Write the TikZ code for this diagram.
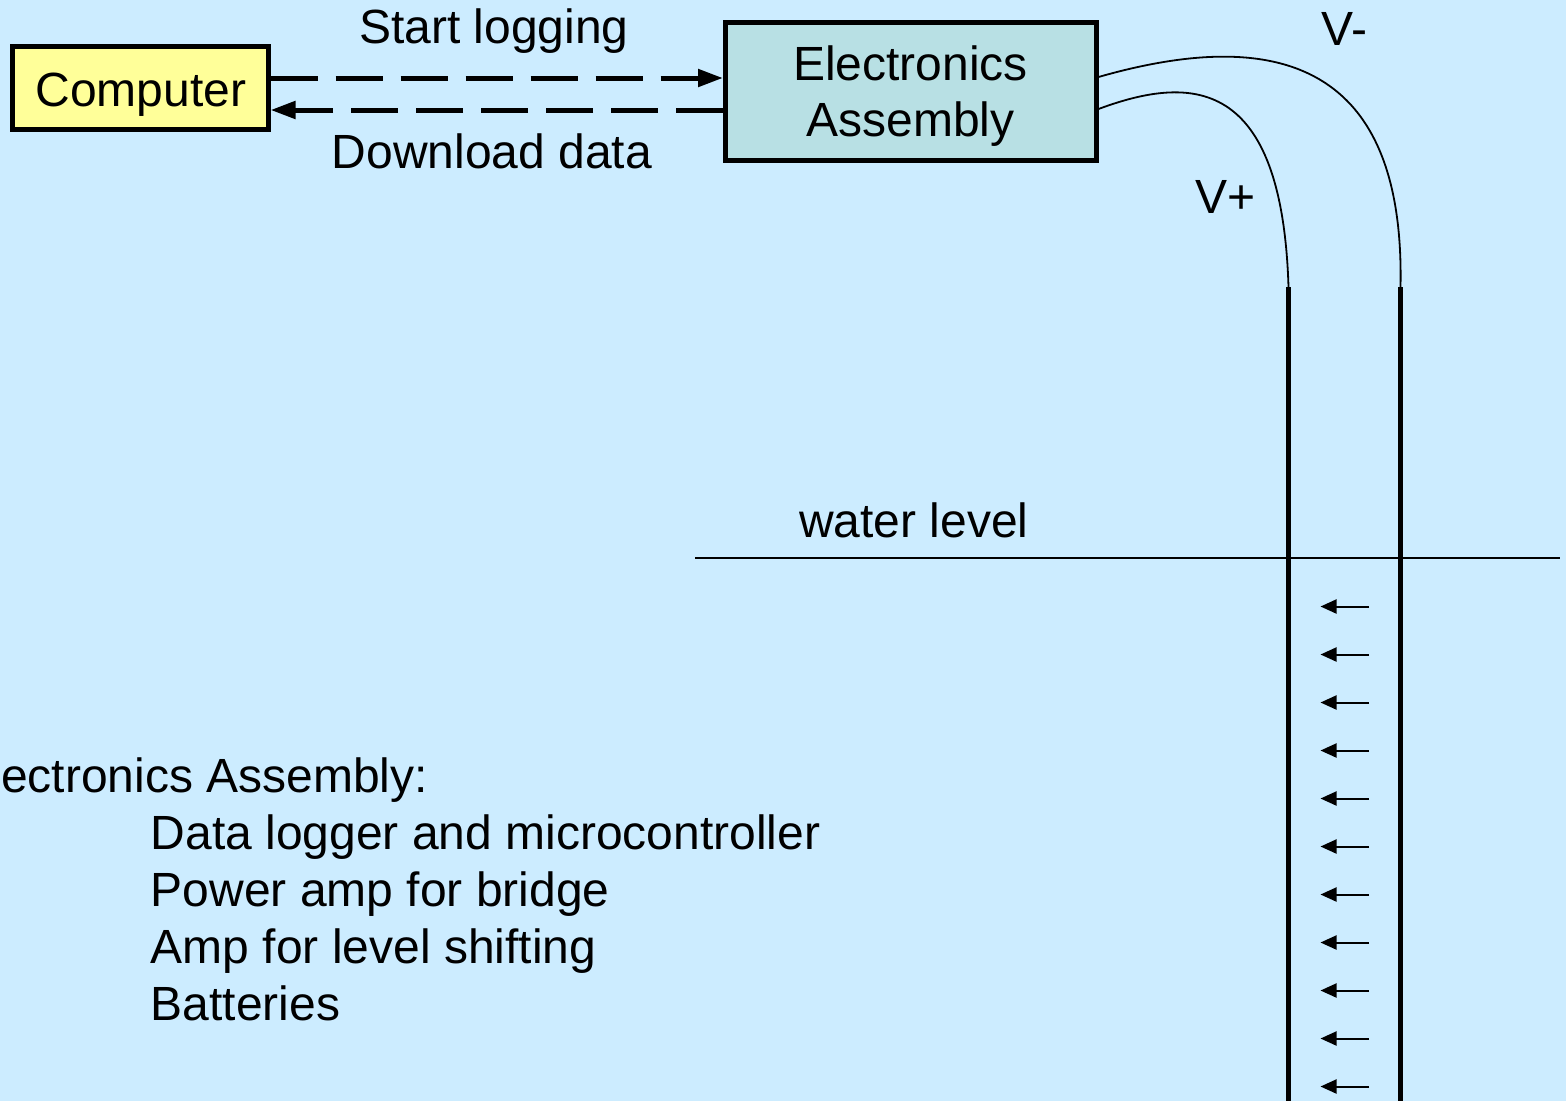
\documentclass[tikz,border=0pt]{standalone}
\usepackage{fontspec}
\setmainfont{Liberation Sans}
\usetikzlibrary{arrows.meta}
\definecolor{bg}{RGB}{204,236,255}
\definecolor{compfill}{RGB}{255,255,153}
\definecolor{elecfill}{RGB}{184,224,228}
\begin{document}
\begin{tikzpicture}[x=1pt,y=-1pt,
  txt/.style={inner sep=0pt, anchor=base, font=\fontsize{48}{57}\selectfont},
  ltxt/.style={txt, anchor=base west},
  boxnode/.style={draw, line width=5pt, inner sep=0pt},
  dasharrow/.style={line width=5pt, dash pattern=on 47pt off 18pt, -{Triangle[length=25pt,width=17pt]}},
  wire/.style={line width=1.8pt},
  electrode/.style={line width=5.5pt},
  flow/.style={line width=2pt, -{Triangle[length=16pt,width=14pt]}}]
\fill[bg] (0,0) rectangle (1566,1101);
\useasboundingbox (0,0) rectangle (1566,1101);
% boxes
\node[boxnode, fill=compfill, minimum width=255.5pt, minimum height=83pt] (comp) at (140.25,88) {};
\node[boxnode, fill=elecfill, minimum width=370.5pt, minimum height=138.5pt] (elec) at (910.75,91.25) {};
\node[txt] (comptxt) at (141,106) {Computer};
\node[txt] (electxt1) at (910.5,80) {Electronics};
\node[txt] (electxt2) at (910.5,136.7) {Assembly};
% dashed arrows
\draw[dasharrow] ([yshift=10pt]comp.east) -- ([yshift=13.25pt]elec.west);
\draw[dasharrow] ([yshift=-18.75pt]elec.west) -- ([yshift=-22pt]comp.east);
\node[txt] (start) at (494,43) {Start logging};
\node[txt] (down) at (492,168) {Download data};
% electrodes
\coordinate (pltop) at (1288.5,287);
\coordinate (plbot) at (1288.5,1101);
\coordinate (mitop) at (1400.5,287);
\coordinate (mibot) at (1400.5,1101);
\draw[electrode] (pltop) -- (plbot);
\draw[electrode] (mitop) -- (mibot);
% wires
\draw[wire] ([yshift=14.25pt]elec.east) .. controls (1280,25) and (1405,65) .. (mitop);
\draw[wire] ([yshift=-17.75pt]elec.east) .. controls (1190,75) and (1282,75) .. (pltop);
\node[txt] (vminus) at (1344.5,45) {V-};
\node[txt] (vplus) at (1225.5,213) {V+};
% water level
\coordinate (wl) at (695,558);
\coordinate (wr) at (1560,558);
\draw[line width=2pt] (wl) -- (wr);
\node[txt] (water) at (914,537) {water level};
% flow arrows
\foreach \k in {0,...,10} {
  \coordinate (fa\k) at (1369,606.5+48*\k);
  \coordinate (fb\k) at (1320.5,606.5+48*\k);
  \draw[flow] (fa\k) -- (fb\k);
}
% description
\node[ltxt] (d0) at (1,792) {ectronics Assembly:};
\node[ltxt] (d1) at (150.5,849) {Data logger and microcontroller};
\node[ltxt] (d2) at (150.5,906.5) {Power amp for bridge};
\node[ltxt] (d3) at (150.5,963) {Amp for level shifting};
\node[ltxt] (d4) at (150.5,1020) {Batteries};
\end{tikzpicture}
\end{document}
